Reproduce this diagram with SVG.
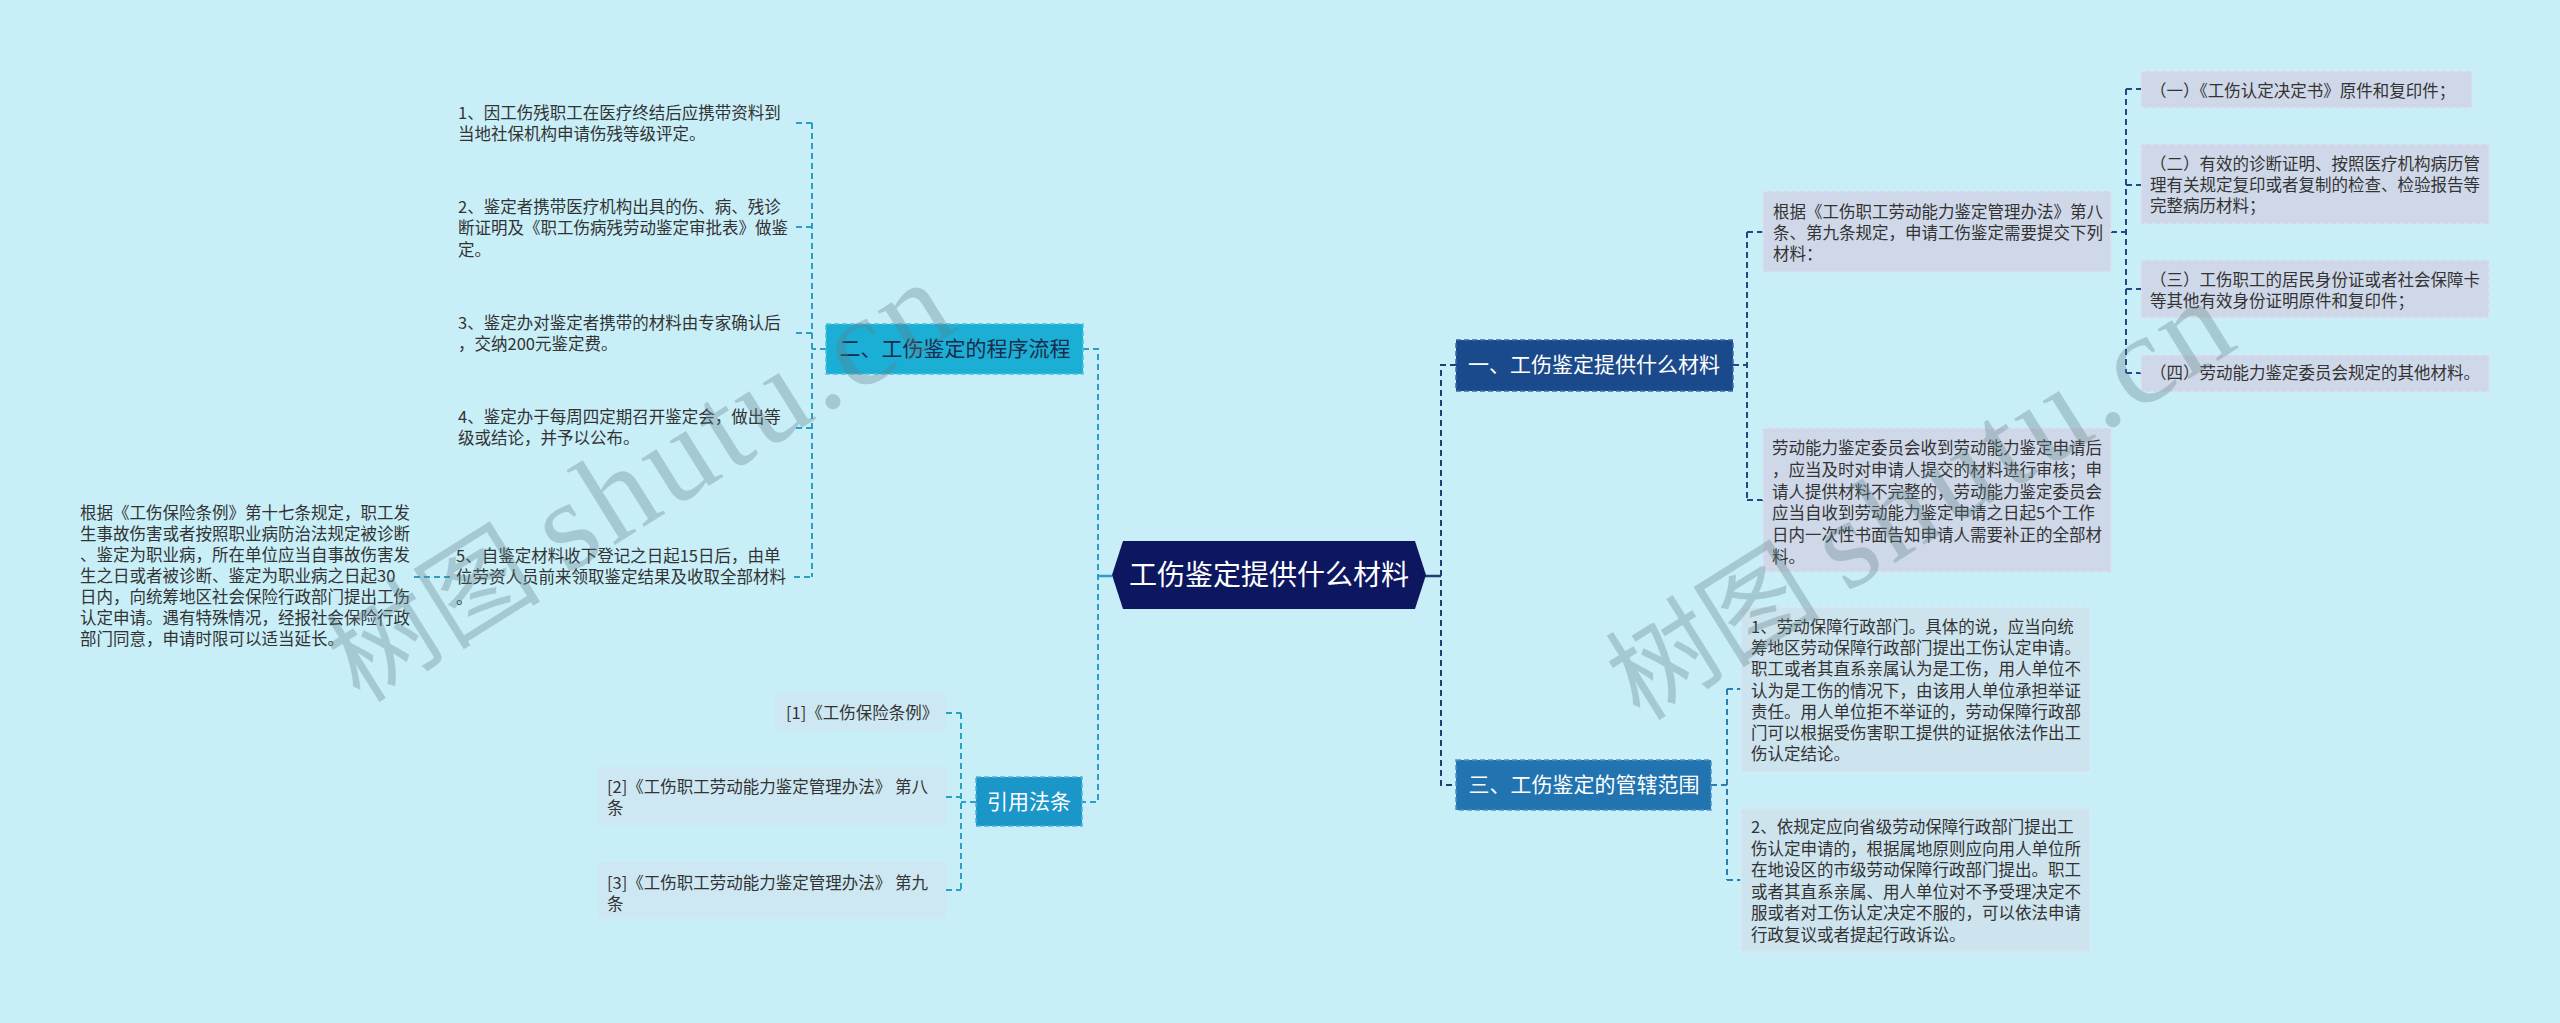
<svg xmlns="http://www.w3.org/2000/svg" width="2560" height="1023" viewBox="0 0 2560 1023">
<style>
.t{font-family:"Noto Sans CJK SC","Noto Sans",sans-serif;font-size:16.5px;fill:#333}
.n{font-family:"Noto Sans CJK SC","Noto Sans",sans-serif;font-size:21px;text-anchor:middle}
.cl{fill:none;stroke:#2b9ec4;stroke-width:2;stroke-dasharray:6 4}
.cn1{fill:none;stroke:#1f4a86;stroke-width:2;stroke-dasharray:6 4}
.cn3{fill:none;stroke:#2a7fb0;stroke-width:2;stroke-dasharray:6 4}
.bx1{fill:#cfd8e8;stroke:#dde4f0;stroke-width:1.5;stroke-dasharray:5 3}
.bx3{fill:#cde3ee;stroke:#d8ebf3;stroke-width:1.5;stroke-dasharray:5 3}
.bxr{fill:#cde8f2}
.wm{font-family:"Liberation Serif","Noto Sans CJK SC",serif;font-size:108px;fill:#5f7f88;fill-opacity:0.33}
.wl{font-size:128px;letter-spacing:5px}
</style>
<rect x="0" y="0" width="2560" height="1023" fill="#c8eef7"/>

<g id="connectors">
  <path d="M1112,576 H1098" stroke="#2b9ec4" stroke-width="2.5" fill="none"/>
  <path class="cl" d="M1083,349 H1098 V802 H1082"/>
  <path class="cl" d="M826,349 H812"/>
  <path class="cl" d="M812,123 V577"/>
  <path class="cl" d="M796,123 H812 M796,227 H812 M796,333 H812 M796,428 H812 M794,577 H812"/>
  <path class="cl" d="M414,577 H452"/>
  <path class="cl" d="M976,802 H961 M961,713 V890 M946,713 H961 M946,797 H961 M946,890 H961"/>
  <path d="M1425,576 H1441" stroke="#1f3f72" stroke-width="2.5" fill="none"/>
  <path class="cn1" d="M1456,365 H1441 V785 H1456" style="stroke:#1f3f72"/>
  <path class="cn1" d="M1733,365 H1747 M1747,232 V500 M1747,232 H1763 M1747,500 H1763"/>
  <path class="cn1" d="M2111,232 H2126 M2126,89 V373 M2126,89 H2141 M2126,185 H2141 M2126,289 H2141 M2126,373 H2141"/>
  <path class="cn3" d="M1711,785 H1727 M1727,689 V880 M1727,689 H1741 M1727,880 H1741"/>
</g>

<g id="root">
  <polygon points="1112,575 1123,541 1415,541 1426,575 1415,609 1123,609" fill="#0d1760"/>
  <text x="1269" y="585" font-family="Noto Sans CJK SC, sans-serif" font-size="28" fill="#fff" text-anchor="middle">工伤鉴定提供什么材料</text>
</g>

<g id="n1">
  <rect x="1456" y="340" width="277" height="51" fill="#1b4a8c" stroke="#3d6aa8" stroke-width="1.5" stroke-dasharray="5 3"/>
  <text class="n" x="1594" y="372" fill="#fff">一、工伤鉴定提供什么材料</text>
</g>
<g id="n2">
  <rect x="826" y="324" width="257" height="50" fill="#1cafd6" stroke="#4cc2e0" stroke-width="1.5" stroke-dasharray="5 3"/>
  <text class="n" x="955" y="356" fill="#1a2c4c">二、工伤鉴定的程序流程</text>
</g>
<g id="n3">
  <rect x="1456" y="760" width="255" height="50" fill="#2174b0" stroke="#4b92c6" stroke-width="1.5" stroke-dasharray="5 3"/>
  <text class="n" x="1584" y="792" fill="#fff">三、工伤鉴定的管辖范围</text>
</g>
<g id="n4">
  <rect x="976" y="777" width="106" height="49" fill="#1a96c9" stroke="#4fb4dc" stroke-width="1.5" stroke-dasharray="5 3"/>
  <text class="n" x="1029" y="809" fill="#fff">引用法条</text>
</g>

<g id="l1"><text class="t" x="458" y="119">1、因工伤残职工在医疗终结后应携带资料到<tspan x="458" dy="21.3">当地社保机构申请伤残等级评定。</tspan></text></g>
<g id="l2"><text class="t" x="458" y="213">2、鉴定者携带医疗机构出具的伤、病、残诊<tspan x="458" dy="21.3">断证明及《职工伤病残劳动鉴定审批表》做鉴</tspan><tspan x="458" dy="21.3">定。</tspan></text></g>
<g id="l3"><text class="t" x="458" y="329">3、鉴定办对鉴定者携带的材料由专家确认后<tspan x="458" dy="21.3">，交纳200元鉴定费。</tspan></text></g>
<g id="l4"><text class="t" x="458" y="423">4、鉴定办于每周四定期召开鉴定会，做出等<tspan x="458" dy="21.3">级或结论，并予以公布。</tspan></text></g>
<g id="l5"><text class="t" x="456" y="562">5、自鉴定材料收下登记之日起15日后，由单<tspan x="456" dy="21">位劳资人员前来领取鉴定结果及收取全部材料</tspan><tspan x="456" dy="21">。</tspan></text></g>
<g id="l6"><text class="t" x="80" y="519">根据《工伤保险条例》第十七条规定，职工发<tspan x="80" dy="21">生事故伤害或者按照职业病防治法规定被诊断</tspan><tspan x="80" dy="21">、鉴定为职业病，所在单位应当自事故伤害发</tspan><tspan x="80" dy="21">生之日或者被诊断、鉴定为职业病之日起30</tspan><tspan x="80" dy="21">日内，向统筹地区社会保险行政部门提出工伤</tspan><tspan x="80" dy="21">认定申请。遇有特殊情况，经报社会保险行政</tspan><tspan x="80" dy="21">部门同意，申请时限可以适当延长。</tspan></text></g>

<g id="r1"><rect class="bxr" x="775" y="693" width="171" height="38"/><text class="t" x="786" y="719">[1]《工伤保险条例》</text></g>
<g id="r2"><rect class="bxr" x="598" y="767" width="348" height="58"/><text class="t" x="607" y="793">[2]《工伤职工劳动能力鉴定管理办法》 第八<tspan x="607" dy="21">条</tspan></text></g>
<g id="r3"><rect class="bxr" x="598" y="862" width="348" height="57"/><text class="t" x="607" y="889">[3]《工伤职工劳动能力鉴定管理办法》 第九<tspan x="607" dy="21">条</tspan></text></g>

<g id="a1"><rect class="bx1" x="1763" y="191" width="348" height="81"/><text class="t" x="1773" y="218">根据《工伤职工劳动能力鉴定管理办法》第八<tspan x="1773" dy="21">条、第九条规定，申请工伤鉴定需要提交下列</tspan><tspan x="1773" dy="21">材料：</tspan></text></g>
<g id="a2"><rect class="bx1" x="1763" y="428" width="348" height="144"/><text class="t" x="1772" y="454">劳动能力鉴定委员会收到劳动能力鉴定申请后<tspan x="1772" dy="21.8">，应当及时对申请人提交的材料进行审核；申</tspan><tspan x="1772" dy="21.8">请人提供材料不完整的，劳动能力鉴定委员会</tspan><tspan x="1772" dy="21.8">应当自收到劳动能力鉴定申请之日起5个工作</tspan><tspan x="1772" dy="21.8">日内一次性书面告知申请人需要补正的全部材</tspan><tspan x="1772" dy="21.8">料。</tspan></text></g>

<g id="b1"><rect class="bx1" x="2141" y="71" width="331" height="37"/><text class="t" x="2150" y="97">（一）《工伤认定决定书》原件和复印件；</text></g>
<g id="b2"><rect class="bx1" x="2141" y="144" width="348" height="80"/><text class="t" x="2150" y="170">（二）有效的诊断证明、按照医疗机构病历管<tspan x="2150" dy="21">理有关规定复印或者复制的检查、检验报告等</tspan><tspan x="2150" dy="21">完整病历材料；</tspan></text></g>
<g id="b3"><rect class="bx1" x="2141" y="260" width="348" height="58"/><text class="t" x="2150" y="286">（三）工伤职工的居民身份证或者社会保障卡<tspan x="2150" dy="20.5">等其他有效身份证明原件和复印件；</tspan></text></g>
<g id="b4"><rect class="bx1" x="2141" y="355" width="348" height="37"/><text class="t" x="2150" y="379">（四）劳动能力鉴定委员会规定的其他材料。</text></g>

<g id="c1"><rect class="bx3" x="1741" y="607" width="349" height="165"/><text class="t" x="1751" y="633">1、劳动保障行政部门。具体的说，应当向统<tspan x="1751" dy="21.2">筹地区劳动保障行政部门提出工伤认定申请。</tspan><tspan x="1751" dy="21.2">职工或者其直系亲属认为是工伤，用人单位不</tspan><tspan x="1751" dy="21.2">认为是工伤的情况下，由该用人单位承担举证</tspan><tspan x="1751" dy="21.2">责任。用人单位拒不举证的，劳动保障行政部</tspan><tspan x="1751" dy="21.2">门可以根据受伤害职工提供的证据依法作出工</tspan><tspan x="1751" dy="21.2">伤认定结论。</tspan></text></g>
<g id="c2"><rect class="bx3" x="1741" y="808" width="349" height="144"/><text class="t" x="1751" y="833">2、依规定应向省级劳动保障行政部门提出工<tspan x="1751" dy="21.6">伤认定申请的，根据属地原则应向用人单位所</tspan><tspan x="1751" dy="21.6">在地设区的市级劳动保障行政部门提出。职工</tspan><tspan x="1751" dy="21.6">或者其直系亲属、用人单位对不予受理决定不</tspan><tspan x="1751" dy="21.6">服或者对工伤认定决定不服的，可以依法申请</tspan><tspan x="1751" dy="21.6">行政复议或者提起行政诉讼。</tspan></text></g>

<g id="watermark">
  <text class="wm" transform="translate(360,704) rotate(-32)">树图 <tspan class="wl">shutu.cn</tspan></text>
  <text class="wm" transform="translate(1640,722) rotate(-32)">树图 <tspan class="wl">shutu.cn</tspan></text>
</g>
</svg>
